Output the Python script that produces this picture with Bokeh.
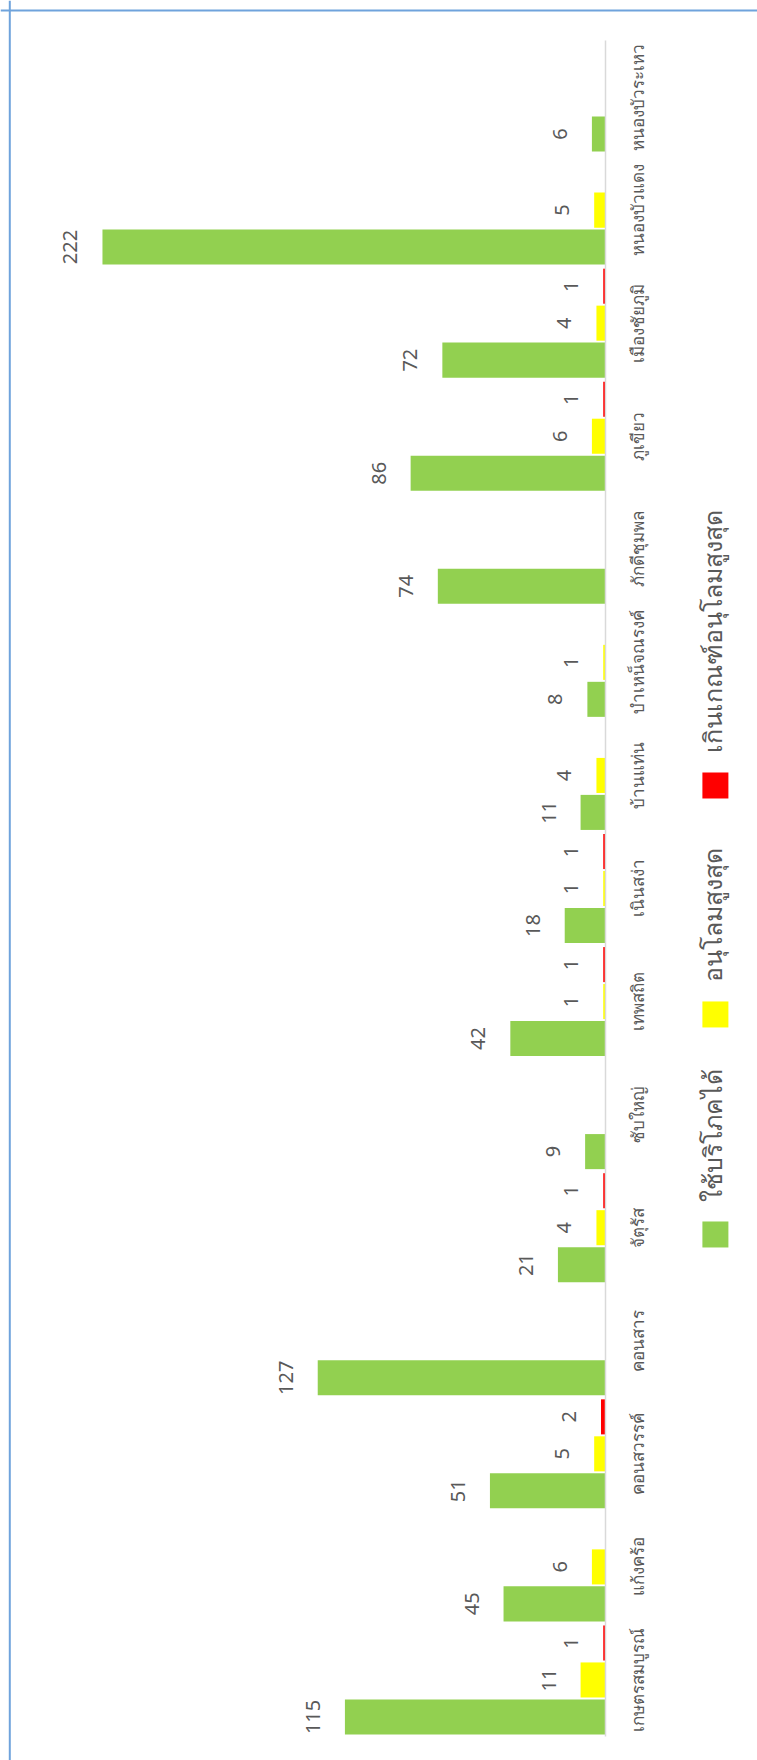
import math
from bokeh.plotting import figure
from bokeh.models import ColumnDataSource, Range1d, Span
from bokeh.core.properties import value
from bokeh.embed import file_html
from bokeh.resources import INLINE

# ---------------- data ----------------
categories = ["เกษตรสมบูรณ์", "แก้งคร้อ", "คอนสวรรค์", "คอนสาร", "จัตุรัส",
              "ซับใหญ่", "เทพสถิต", "เนินสง่า", "บ้านแท่น", "บำเหน็จณรงค์",
              "ภักดีชุมพล", "ภูเขียว", "เมืองชัยภูมิ", "หนองบัวแดง", "หนองบัวระเหว"]
consumable = [115, 45, 51, 127, 21, 9, 42, 18, 11, 8, 74, 86, 72, 222, 6]
lenient_max = [11, 6, 5, None, 4, None, 1, 1, 4, 1, None, 6, 4, 5, None]
over_max = [1, None, 2, None, 1, None, 1, 1, None, None, None, 1, 1, None, None]
series_names = ["ใช้บริโภคได้", "อนุโลมสูงสุด", "เกินเกณฑ์อนุโลมสูงสุด"]
series_colors = ["#92D050", "#FFFF00", "#FF0000"]
series_values = [consumable, lenient_max, over_max]

# ---------------- layout constants ----------------
W, H = 757, 1760
FONT = value("Noto Sans")
GRAY = "#595959"
BAR_H = 0.31
OFFSETS = [-0.327, 0.0, 0.327]   # dodge within each category (bottom -> top)
ROT = math.pi / 2

p = figure(width=W, height=H, output_backend="svg", toolbar_location=None,
           x_range=Range1d(267.0, -67.08), y_range=Range1d(-0.7123, 14.8538),
           x_axis_type=None, y_axis_type=None, min_border=0,
           background_fill_color="white", border_fill_color="white")
p.grid.visible = False
p.outline_line_color = None

# chart-area border (left and top edges visible in the crop)
p.add_layout(Span(location=262.9, dimension="height", line_color="#6FA3DC", line_width=2))
p.add_layout(Span(location=14.765, dimension="width", line_color="#6FA3DC", line_width=2))

idx = list(range(len(categories)))

# bars + value labels
for vals, color, off in zip(series_values, series_colors, OFFSETS):
    ys, xs = [], []
    for i, v in zip(idx, vals):
        if v is not None:
            ys.append(i + off)
            xs.append(v)
    src = ColumnDataSource(dict(y=ys, right=xs, label=[str(v) for v in xs]))
    p.hbar(y="y", left=0, right="right", height=BAR_H, source=src,
           fill_color=color, line_color=None)
    p.text(x="right", y="y", text="label", source=src, angle=ROT,
           text_align="center", text_baseline="alphabetic", x_offset=-32,
           text_font=FONT, text_font_size="20px", text_color=GRAY)

# category axis line + labels
p.segment(x0=0, y0=-0.5, x1=0, y1=len(categories) - 0.5,
          line_color="#D9D9D9", line_width=1.5)
cat_src = ColumnDataSource(dict(x=[0] * len(categories), y=idx, text=categories))
p.text(x="x", y="y", text="text", source=cat_src, angle=ROT,
       text_align="center", text_baseline="alphabetic", x_offset=32,
       text_font=FONT, text_font_size="17px", text_color=GRAY)

# legend (rotated, drawn manually)
leg_y = [3.94, 5.886, 7.911]
leg_src = ColumnDataSource(dict(x=[-48.5] * 3, y=leg_y, text=series_names,
                                color=series_colors))
p.scatter(x="x", y="y", source=leg_src, marker="square", size=26,
          fill_color="color", line_color=None)
p.text(x="x", y="y", text="text", source=leg_src, angle=ROT,
       text_align="left", text_baseline="alphabetic", x_offset=-3, y_offset=-32,
       text_font=FONT, text_font_size="25px", text_color=GRAY)

open("out.html", "w").write(file_html(p, INLINE))
